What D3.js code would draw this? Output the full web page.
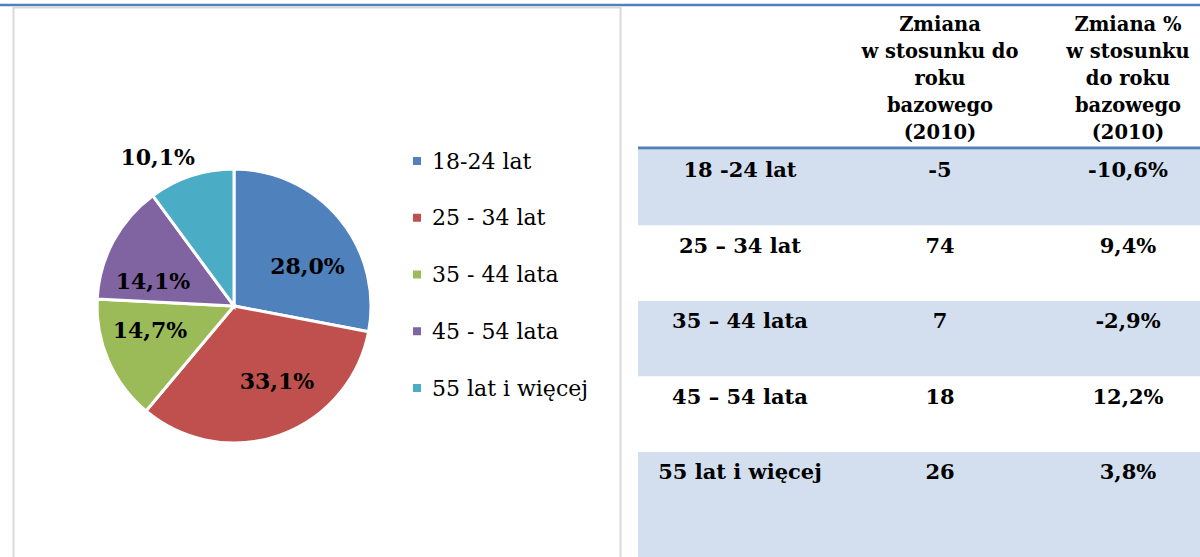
<!DOCTYPE html>
<html>
<head>
<meta charset="utf-8">
<script src="https://cdn.jsdelivr.net/npm/d3@7"></script>
<style>
  body { margin: 0; background: #fff; }
  svg { display: block; }
</style>
</head>
<body>
<svg id="chart" width="1200" height="557"></svg>
<script>
// data
let ageGroups = ["18-24 lat", "25 - 34 lat", "35 - 44 lata", "45 - 54 lata", "55 lat i więcej"];
let shares = [28.0, 33.1, 14.7, 14.1, 10.1];
let rowLabels = ["18 -24 lat", "25 – 34 lat", "35 – 44 lata", "45 – 54 lata", "55 lat i więcej"];
let changeAbs = [-5, 74, 7, 18, 26];
let changePct = [-10.6, 9.4, -2.9, 12.2, 3.8];
let headerAbs = ["Zmiana", "w stosunku do", "roku", "bazowego", "(2010)"];
let headerPct = ["Zmiana %", "w stosunku", "do roku", "bazowego", "(2010)"];

let colors = ["#4F81BD", "#C0504D", "#9BBB59", "#8064A2", "#4BACC6"];
let serif = "'DejaVu Serif', serif";

let width = 1200;
let height = 557;

let svg = d3.select("#chart");

let fmt = v => v.toFixed(1).replace(".", ",");

// top rule
svg.append("line")
    .attr("x1", 0).attr("x2", width)
    .attr("y1", 5).attr("y2", 5)
    .style("stroke", "#4F81BD")
    .style("stroke-width", 2.5);

// chart frame
svg.append("rect")
    .attr("x", 13.5).attr("y", 7.5)
    .attr("width", 607).attr("height", 600)
    .style("fill", "none")
    .style("stroke", "#D9D9D9")
    .style("stroke-width", 2);

// pie
let cx = 234, cy = 306, R = 137;
let pie = d3.pie().sort(null).value(d => d);
let arcs = pie(shares);
let arc = d3.arc().innerRadius(0).outerRadius(R);

let g = svg.append("g").attr("transform", `translate(${cx},${cy})`);

g.selectAll("path")
    .data(arcs)
    .join("path")
    .attr("d", arc)
    .attr("fill", (d, i) => colors[i])
    .style("stroke", "#fff")
    .style("stroke-width", 3);

// label placement: inside at ~0.63R, last slice outside
let labelArc = d3.arc().innerRadius(R * 0.63).outerRadius(R * 0.63);
let outArc = d3.arc().innerRadius(R * 1.2).outerRadius(R * 1.2);
let nudges = [[7, 15], [14, -6], [-5, -10], [-5, 16], [-25, 7]];

g.selectAll("text.lbl")
    .data(arcs)
    .join("text")
    .attr("class", "lbl")
    .attr("x", (d, i) => (i == 4 ? outArc : labelArc).centroid(d)[0] + nudges[i][0])
    .attr("y", (d, i) => (i == 4 ? outArc : labelArc).centroid(d)[1] + nudges[i][1])
    .attr("text-anchor", "middle")
    .attr("dy", "0.35em")
    .text(d => fmt(d.data) + "%")
    .style("font-family", serif)
    .style("font-weight", "bold")
    .style("font-size", "22px")
    .style("fill", "#000");

// legend
let ly = d3.scalePoint().domain(ageGroups).range([161, 388]);

let legend = svg.selectAll("g.legend")
    .data(ageGroups)
    .join("g")
    .attr("class", "legend")
    .attr("transform", d => `translate(413,${ly(d)})`);

legend.append("rect")
    .attr("x", 0).attr("y", -4)
    .attr("width", 8).attr("height", 8)
    .attr("fill", (d, i) => colors[i]);

legend.append("text")
    .attr("x", 19)
    .attr("dy", "0.35em")
    .text(d => d)
    .style("font-family", serif)
    .style("font-size", "22px")
    .style("fill", "#000");

// table
let tableLeft = 638;
let colX = [740, 940, 1128];
let rowY = d3.scaleBand().domain(rowLabels).range([150, 150 + 5 * 75.5]);

svg.selectAll("rect.row")
    .data(rowLabels)
    .join("rect")
    .attr("class", "row")
    .attr("x", tableLeft)
    .attr("y", d => rowY(d))
    .attr("width", width - tableLeft)
    .attr("height", (d, i) => i == 4 ? height - rowY(d) : rowY.bandwidth())
    .attr("fill", (d, i) => i % 2 == 0 ? "#D3DFEE" : "#fff");

svg.append("line")
    .attr("x1", tableLeft).attr("x2", width)
    .attr("y1", 148).attr("y2", 148)
    .style("stroke", "#4F81BD")
    .style("stroke-width", 3);

// header
[headerAbs, headerPct].forEach(function (lines, c) {
    svg.append("g").selectAll("text")
        .data(lines)
        .join("text")
        .attr("x", colX[c + 1])
        .attr("y", (d, i) => 31 + i * 27)
        .attr("text-anchor", "middle")
        .text(d => d)
        .style("font-family", serif)
        .style("font-weight", "bold")
        .style("font-size", "19.5px")
        .style("fill", "#000");
});

// rows
let cells = rowLabels.map((d, i) => [d, String(changeAbs[i]), fmt(changePct[i]) + "%"]);

cells.forEach(function (row, r) {
    svg.append("g").selectAll("text")
        .data(row)
        .join("text")
        .attr("x", (d, c) => colX[c])
        .attr("y", rowY(rowLabels[r]) + 27)
        .attr("text-anchor", "middle")
        .text(d => d)
        .style("font-family", serif)
        .style("font-weight", "bold")
        .style("font-size", "21px")
        .style("fill", "#000");
});
</script>
</body>
</html>
